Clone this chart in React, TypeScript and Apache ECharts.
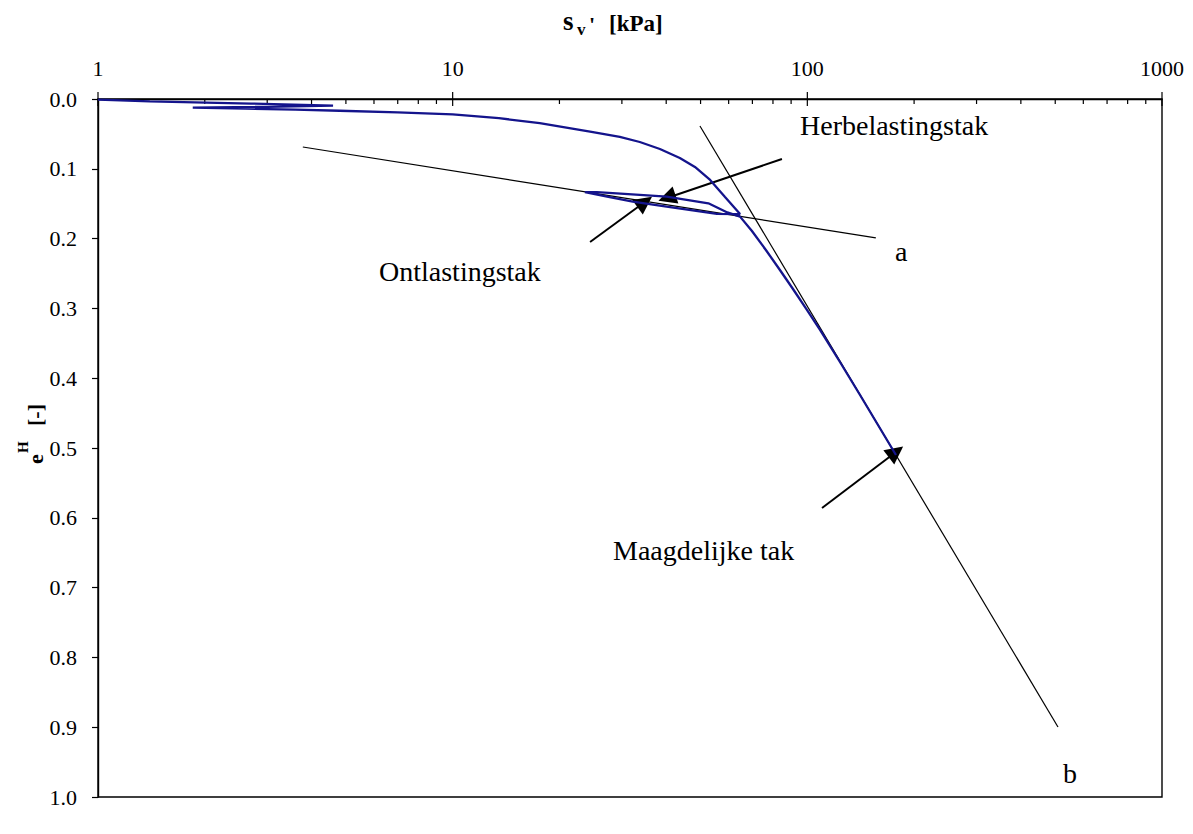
import React, { useEffect, useRef } from "react";
import * as echarts from "echarts";

// Oedometer test: vertical effective stress [kPa] vs natural strain e^H [-]
const stressKPa = [
  1.0, 1.4, 2.7, 4.6,
  3.0, 1.85,
  2.6, 3.6, 4.8, 7.0, 10, 13.5, 17.6, 24.4, 29.6, 33.7, 38.4, 43.7, 48.2, 53.2, 58.6, 64.6,
  55.6, 40.1, 32.2, 27.7, 23.6,
  25.5, 29.0, 40.1, 52.6, 59.5, 64.6,
  69.8, 76.4, 83.7, 91.1, 99.1, 108.6, 123.6, 140.8, 177.8,
];
const strainEH = [
  0.001, 0.0035, 0.0065, 0.0095,
  0.0112, 0.0125,
  0.0138, 0.0152, 0.0168, 0.0192, 0.0219, 0.0275, 0.0345, 0.0468, 0.0544, 0.0616, 0.0716, 0.0845, 0.0974, 0.116, 0.1404, 0.1648,
  0.1645, 0.1543, 0.1471, 0.1405, 0.1335,
  0.1335, 0.1352, 0.14, 0.1494, 0.1625, 0.1685,
  0.1891, 0.2163, 0.245, 0.2722, 0.3001, 0.3309, 0.3768, 0.4241, 0.51,
];

// Tangent lines a (swelling) and b (virgin compression)
const lineAStress = [3.78, 156];
const lineAStrain = [0.0688, 0.199];
const lineBStress = [49.8, 509];
const lineBStrain = [0.0387, 0.8997];

// Pointer arrows: [tail, tip] in (kPa, e^H)
const arrowReload = [[84.8, 0.086], [40.2, 0.1418]];
const arrowUnload = [[24.4, 0.2049], [34.8, 0.1476]];
const arrowVirgin = [[110, 0.586], [177.8, 0.5057]];

// Log-axis ticks
const majorTicks = [1, 10, 100, 1000];
const minorTicks = [
  2, 3, 4, 5, 6, 7, 8, 9,
  20, 30, 40, 50, 60, 70, 80, 90,
  200, 300, 400, 500, 600, 700, 800, 900,
];

const yMin = 0;
const yMax = 1;
const yStep = 0.1;

const serif = "Liberation Serif";

const txt = (
  text: string,
  x: number,
  y: number,
  fontSize: number,
  fontWeight: string = "normal"
) => ({
  type: "text",
  x,
  y,
  silent: true,
  style: {
    text,
    fontFamily: serif,
    fontSize,
    fontWeight,
    fill: "#000",
    textAlign: "left",
    textVerticalAlign: "middle",
  },
});

export default function App() {
  const ref = useRef<HTMLDivElement>(null);

  useEffect(() => {
    if (!ref.current) return;
    const chart = echarts.init(ref.current, undefined, { renderer: "svg" });

    const curve = stressKPa.map((s, i) => [s, strainEH[i]]);
    const lineA = lineAStress.map((s, i) => [s, lineAStrain[i]]);
    const lineB = lineBStress.map((s, i) => [s, lineBStrain[i]]);
    const ticks = [
      ...majorTicks.map((v) => [v, 1]),
      ...minorTicks.map((v) => [v, 0]),
    ];

    chart.setOption({
      animation: false,
      backgroundColor: "#fff",
      grid: {
        left: 98,
        right: 31,
        top: 99,
        bottom: 37,
        show: true,
        borderColor: "#000",
        borderWidth: 1.4,
        backgroundColor: "transparent",
      },
      xAxis: {
        type: "log",
        logBase: 10,
        min: 1,
        max: 1000,
        position: "top",
        axisLine: { show: true, lineStyle: { color: "#000", width: 1.4 } },
        axisTick: { show: false },
        splitLine: { show: false },
        axisLabel: {
          color: "#000",
          fontFamily: serif,
          fontSize: 22,
          margin: 20,
          formatter: (v: number) => String(v),
        },
      },
      yAxis: {
        type: "value",
        inverse: true,
        min: yMin,
        max: yMax,
        interval: yStep,
        axisLine: { show: true, lineStyle: { color: "#000", width: 1.4 } },
        axisTick: { show: true, inside: false, length: 6, lineStyle: { color: "#000", width: 1.2 } },
        splitLine: { show: false },
        axisLabel: {
          color: "#000",
          fontFamily: serif,
          fontSize: 22,
          margin: 21,
          formatter: (v: number) => v.toFixed(1),
        },
      },
      series: [
        {
          type: "custom",
          name: "ticks",
          coordinateSystem: "cartesian2d",
          clip: false,
          silent: true,
          data: ticks,
          encode: { x: 0, y: 1 },
          renderItem: (_p: any, api: any) => {
            const v = api.value(0);
            const major = api.value(1) === 1;
            const pt = api.coord([v, yMin]);
            return {
              type: "line",
              shape: {
                x1: pt[0],
                y1: major ? pt[1] - 7 : pt[1],
                x2: pt[0],
                y2: pt[1] + (major ? 7 : 5),
              },
              style: { stroke: "#000", lineWidth: 1.2 },
            };
          },
        },
        {
          type: "line",
          name: "a",
          data: lineA,
          symbol: "none",
          lineStyle: { color: "#000", width: 1.2 },
          silent: true,
        },
        {
          type: "line",
          name: "b",
          data: lineB,
          symbol: "none",
          lineStyle: { color: "#000", width: 1.2 },
          silent: true,
        },
        {
          type: "line",
          name: "meting",
          data: curve,
          symbol: "none",
          lineStyle: { color: "#14148c", width: 2.3 },
          silent: true,
        },
        {
          type: "lines",
          coordinateSystem: "cartesian2d",
          polyline: false,
          silent: true,
          symbol: ["none", "triangle"],
          symbolSize: [15, 18],
          lineStyle: { color: "#000", width: 2, opacity: 1 },
          itemStyle: { color: "#000" },
          data: [arrowReload, arrowUnload, arrowVirgin].map((c) => ({ coords: c })),
        },
      ],
      graphic: [
        txt("Herbelastingstak", 800, 125, 28),
        txt("Ontlastingstak", 379, 271, 28),
        txt("Maagdelijke tak", 613, 550, 28),
        txt("a", 895, 251, 28),
        txt("b", 1063, 773, 28),
        {
          type: "group",
          silent: true,
          children: [
            txt("s", 563, 21, 27, "bold"),
            txt("v", 577, 29, 17, "bold"),
            txt("'", 589, 24, 22, "bold"),
            txt("[kPa]", 609, 23, 23, "bold"),
          ],
        },
        {
          type: "group",
          silent: true,
          x: 42,
          y: 464,
          rotation: Math.PI / 2,
          children: [
            txt("e", 0, -7, 22, "bold"),
            txt("H", 11, -19, 15, "bold"),
            txt("[-]", 38, -7, 22, "bold"),
          ],
        },
      ],
    });

    return () => chart.dispose();
  }, []);

  return (
    <div
      ref={ref}
      style={{ position: "fixed", left: 0, top: 0, width: 1193, height: 834, background: "#fff" }}
    />
  );
}
